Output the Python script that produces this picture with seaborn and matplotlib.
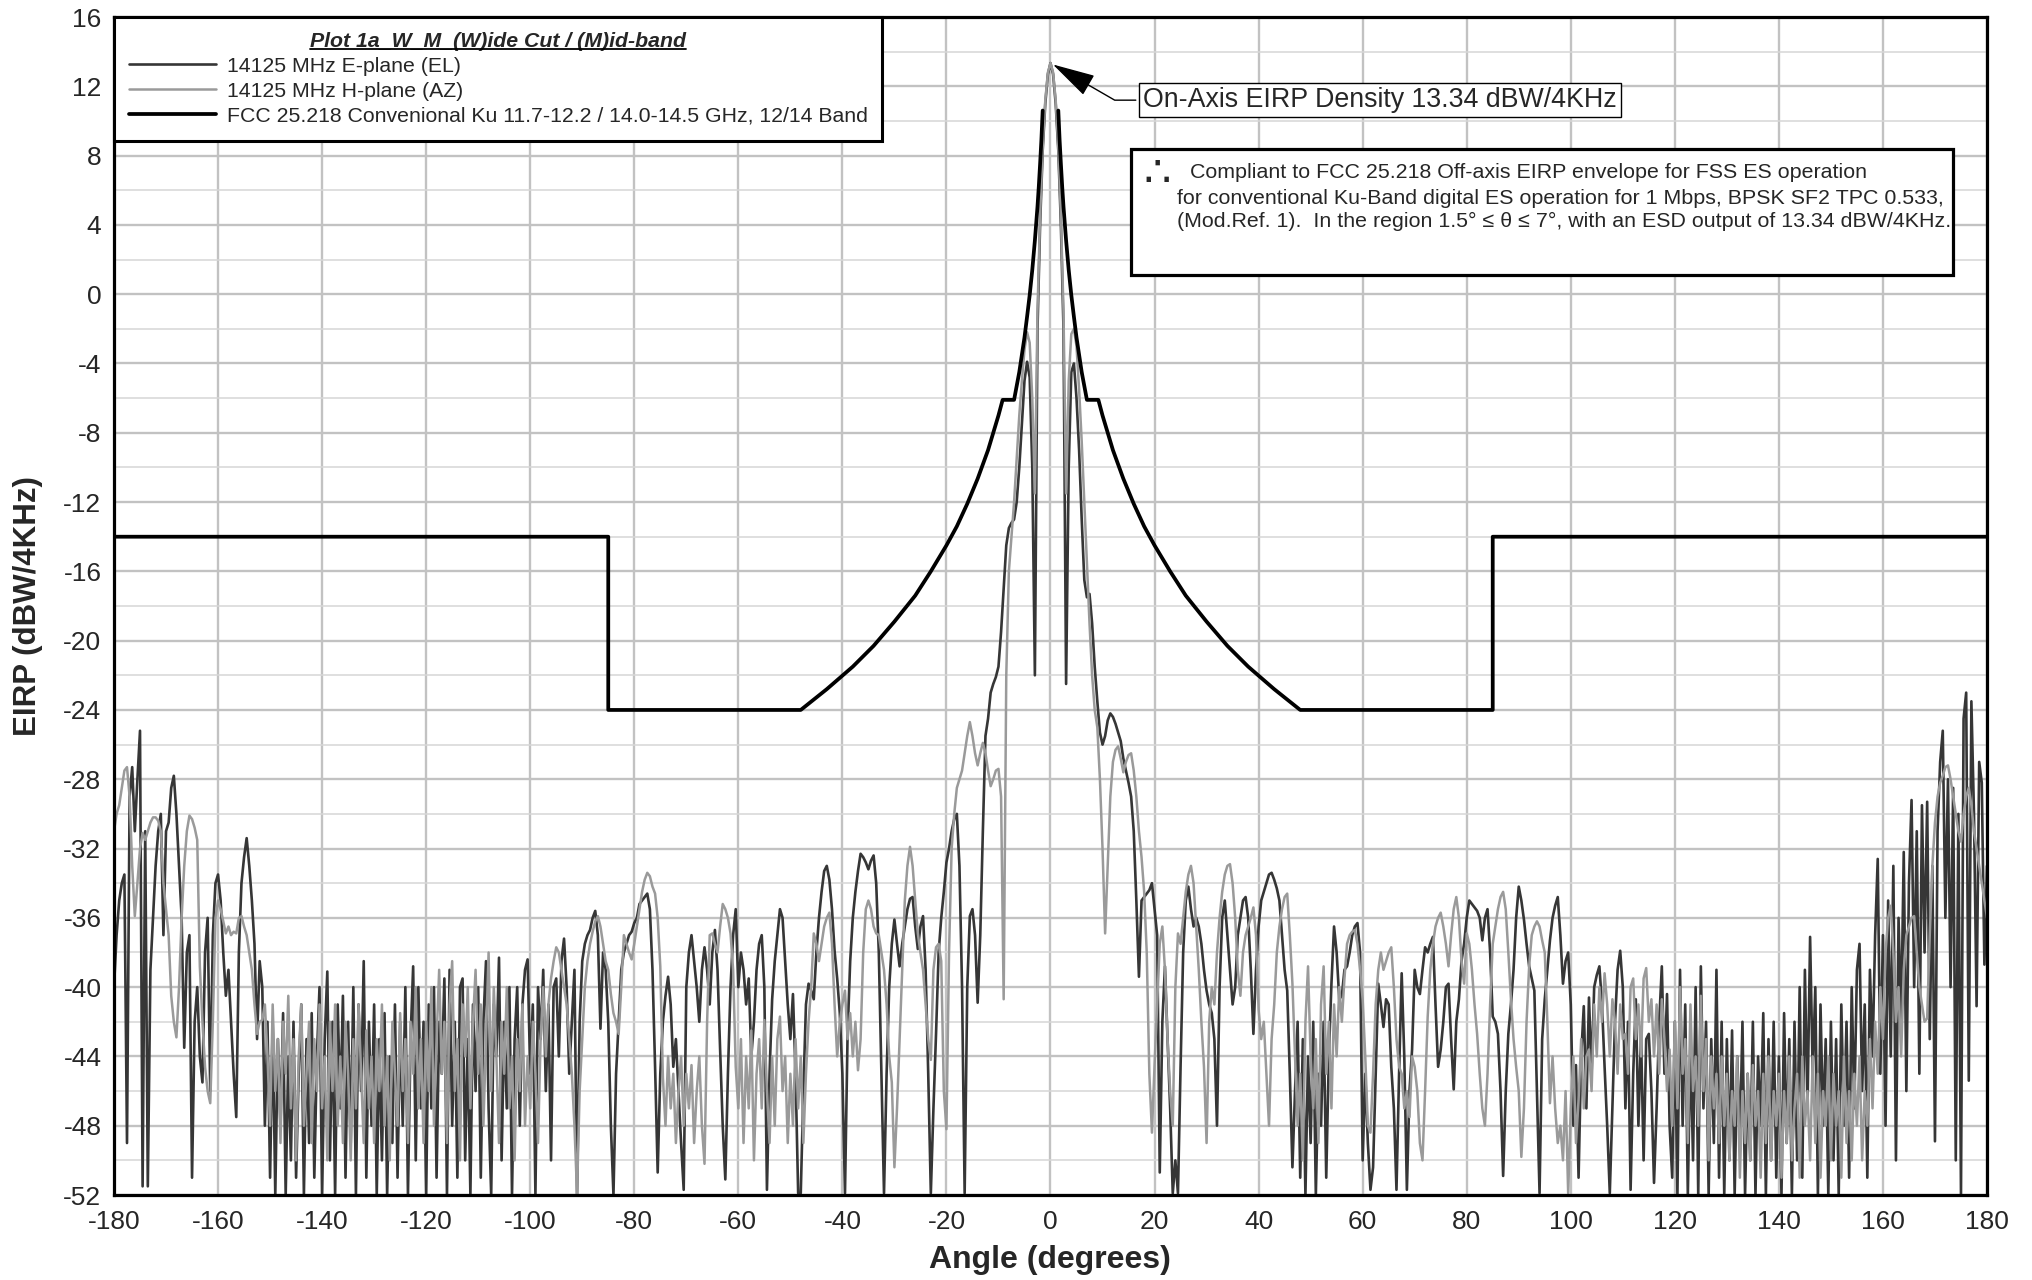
import numpy as np
import pandas as pd
import seaborn as sns
import matplotlib
matplotlib.use("Agg")
import matplotlib.pyplot as plt
from matplotlib.ticker import MultipleLocator
from matplotlib.patches import Rectangle
from matplotlib.lines import Line2D
from matplotlib.transforms import IdentityTransform

# measurement angles, 0.5 deg steps
ANGLES = np.arange(-180, 180.25, 0.5)

# 14125 MHz E-plane (EL), dBW/4kHz
E_PLANE = [
    -40, -37, -35, -34, -33.5, -49, -29, -27.3, -31, -28, -25.2, -51.5, -31, -51.5, -39, -36, -33, -31, -30, -37,
    -31, -30.5, -28.5, -27.8, -30, -33, -36, -43.5, -38, -37, -51, -42, -40, -44, -45.5, -38, -36, -46, -37, -34,
    -33.5, -35, -38, -40.5, -39, -42, -45, -47.5, -38, -34, -32.5, -31.4, -33, -35, -37.5, -43, -38.5, -40, -48, -42,
    -51, -42, -52, -43, -48, -41.5, -52, -44, -50, -42, -51, -45, -41, -52, -43, -49, -41.5, -51, -44, -40,
    -52, -43, -39.1, -50, -42, -52, -41, -47, -40.5, -51, -42, -49, -40, -52, -41, -46, -38.5, -51, -42, -48,
    -41, -52, -43, -50, -41.5, -52, -44, -49, -41, -51, -42, -48, -40, -52, -43, -38.8, -50, -40, -47, -42,
    -52, -41, -47, -40, -51, -42, -45, -39.5, -52, -39, -48, -42, -51, -40, -39.5, -50, -43, -52, -41, -46,
    -40, -51, -42, -38.5, -47, -52, -41, -44, -38.3, -50, -42, -47, -40, -52, -43, -40, -48, -41, -39, -38.4,
    -45, -41, -52, -40, -43, -39, -46, -41, -50, -40, -39.5, -44, -38.5, -37.2, -40, -45, -42, -39, -52, -42,
    -38.5, -37.5, -37, -36.7, -36, -35.6, -37, -42.4, -38, -39, -42, -48, -52, -45, -42, -39, -38, -37.5, -37, -36.8,
    -36.3, -36, -35.2, -35, -34.8, -34.6, -35.5, -39, -44.6, -50.7, -45, -42, -40.5, -39.4, -41, -44.6, -43, -46, -49, -51.7,
    -40, -38, -37, -38.5, -40, -42, -39, -37.7, -39, -41, -38, -36.7, -39, -43.6, -48, -51.1, -45, -40, -37, -35.5,
    -40, -38, -39, -41, -39.5, -44, -42, -39, -37.5, -37, -40, -51.7, -45, -40.7, -38.5, -37, -35.5, -36, -38.5, -41,
    -43, -40.4, -45, -51.9, -51.9, -46, -41, -39.8, -40.2, -40.7, -38, -36, -34.5, -33.3, -33, -33.8, -35.5, -37.9, -39.5, -41.5,
    -45, -51.9, -42.7, -38.5, -36, -34.5, -33.3, -32.3, -32.5, -32.8, -33.2, -32.7, -32.4, -34, -38, -45, -51.9, -45, -40, -37.5,
    -36.1, -37.5, -38.8, -37.5, -36.5, -35.5, -34.9, -34.8, -36.5, -37.8, -36.5, -35.9, -39, -45, -51.9, -47, -42.7, -38, -36, -34.5,
    -32.8, -32, -31, -30.3, -30, -33, -40, -51.9, -40, -35.9, -35.5, -37, -40.9, -37, -31, -25.5, -24.5, -23, -22.5, -22.1,
    -21.5, -19.5, -17, -14.5, -13.5, -13.2, -13, -12, -10, -7.5, -5, -3.9, -4.8, -10, -22, -2, 4, 8.3, 11, 12.7,
    13.34,
    12.7, 11, 8.3, 4, -2, -22.5, -10, -4.5, -4, -6, -9, -13, -16.5, -17.5, -17.3, -19, -21.5, -23.5, -25.3,
    -26, -25.5, -24.6, -24.2, -24.4, -24.8, -25.3, -25.8, -26.8, -27.5, -28.2, -29, -31, -35, -39.4, -35, -34.8, -34.6, -34.4, -34,
    -35.5, -37, -50.7, -42, -38.8, -43, -47, -51.9, -50, -51.9, -44.6, -38, -35, -34.2, -35.5, -36.5, -36, -36.5, -37.5, -39,
    -40.2, -41, -41.5, -43, -48, -40, -36, -35, -37, -39, -41, -40, -37, -36, -35, -34.8, -36, -39, -42.7, -39,
    -36.5, -35, -34.5, -34, -33.5, -33.4, -33.8, -34.3, -35, -37, -39, -40.2, -45, -50.4, -46, -42, -51, -43, -52, -44,
    -49, -42, -52, -45, -48, -42, -51, -44, -39.8, -36.5, -38, -40.7, -40.5, -39, -38.8, -38, -37, -36.5, -36.3, -38,
    -50, -45, -49, -51.7, -50.4, -45, -39.8, -41, -42.3, -40.7, -41, -44.6, -47, -51.7, -45, -39.2, -44, -51.7, -46, -43.6,
    -39, -40, -40.4, -39, -37.7, -38, -37.5, -37.1, -41, -44.6, -43.6, -42, -40, -39.8, -43, -45.9, -42, -40.7, -38.5, -37.5,
    -36, -35, -35.2, -35.4, -35.6, -36, -37.3, -36, -35.5, -38, -41.7, -42, -42.7, -46, -50.9, -46, -42.7, -41, -39, -36,
    -34.2, -35, -36.1, -37.5, -38.8, -39.5, -40.2, -46, -51.9, -43, -40.7, -39, -37.3, -36, -35.3, -34.8, -37, -39.8, -38.5, -38,
    -41, -48, -44.5, -51, -44, -41.1, -47, -40.6, -45, -40, -39.3, -38.8, -41, -44.6, -48, -51.9, -47, -42, -39, -37.9,
    -40, -47, -42, -51.7, -45, -40.7, -48, -42.7, -50, -43, -42.7, -46, -51.3, -47, -42, -38.8, -45, -40.4, -48, -51,
    -42, -52, -39, -48, -41, -52, -43, -50, -40, -52, -38.8, -47, -42, -52, -43, -49, -39, -51, -42, -52,
    -43, -50, -42.5, -52, -44, -49, -42, -52, -45, -50, -42, -52, -44, -48, -41.5, -52, -43, -50, -42, -51,
    -44, -52, -41.5, -49, -43, -52, -42, -50, -40, -51, -39, -47, -37.1, -45, -40, -52, -41, -48, -43, -52,
    -42, -50, -43, -52, -41, -48, -42, -51, -40, -47, -39, -37.5, -46, -41, -51, -39, -44, -37, -32.6, -45,
    -37, -48, -35, -44, -33, -50, -36, -42, -32.2, -46, -34, -29.2, -40, -31, -45, -29.5, -38, -29.3, -43, -33,
    -48.9, -31, -27, -25.2, -36, -28, -40, -28.5, -50, -30, -52, -24.5, -23, -45.4, -23.5, -30, -41.1, -27, -28.2, -38.7,
    -33,
]

# 14125 MHz H-plane (AZ)
H_PLANE = [
    -31, -30, -29.5, -28.5, -27.5, -27.3, -29, -33, -35.9, -34, -32, -31.1, -31.5, -31, -30.5, -30.2, -30.2, -30.4, -31, -34,
    -35.5, -37, -40.5, -42, -42.9, -40, -36, -33, -31, -30.1, -30.3, -30.8, -31.5, -38.8, -42, -44.6, -46, -46.7, -42, -36,
    -35, -35.5, -36.2, -36.9, -36.5, -37, -36.8, -36.9, -36, -35.9, -36.5, -37, -38, -39, -41, -42.7, -42, -41.9, -41, -44,
    -48, -41, -46, -43, -49, -42, -45, -40.5, -47, -43, -50, -44, -41, -48, -45, -42, -49, -43, -46, -41,
    -47, -44, -50, -42, -46, -41, -48, -44, -49, -42, -45, -50, -43, -47, -41, -45, -49, -42.5, -47, -44,
    -49, -43, -46, -41, -48, -44, -50, -42, -45, -48, -41.5, -46, -43, -49, -42, -45, -40, -47, -43, -49,
    -42, -46, -40, -48, -43, -39, -45, -42, -49, -41, -38.5, -46, -43, -50, -41, -44, -40, -47, -42, -39,
    -45, -41, -48, -43, -38, -46, -40, -44, -49, -42, -45, -40, -47, -44, -50, -43, -46, -41, -48, -44,
    -47, -42, -45, -49, -43, -40, -44, -41, -39.5, -38.5, -37.7, -38, -39, -40, -41, -43, -45, -48, -51.9, -46,
    -43, -40, -38.5, -37.5, -36.8, -36.2, -35.9, -36.5, -37.5, -38.5, -39, -40.4, -41.5, -42, -42.7, -40, -37, -37.5, -38, -38.4,
    -37.5, -36.5, -35.5, -34.5, -33.8, -33.4, -33.6, -34.2, -34.6, -36, -38.8, -45.2, -48, -44, -47, -45, -49, -46, -44, -48,
    -45, -47, -44.5, -49, -46, -44, -48, -50.2, -42, -37, -36.9, -37.5, -38, -36.5, -35.2, -35.5, -36, -36.9, -39, -44.6,
    -47, -43, -49, -44, -47, -42.5, -50, -45, -43, -47, -41.9, -46, -49, -44, -48, -43, -41.7, -46, -44, -49,
    -45, -48, -43, -47, -44, -49, -45, -42, -40, -36.9, -37.5, -38.5, -37.5, -36.5, -36, -35.7, -37.5, -41, -44, -42,
    -41, -40.2, -43, -41.5, -44, -42, -44.8, -43, -38, -35.5, -35, -35.5, -36.5, -36.9, -37, -38, -39, -41, -44, -45.5,
    -50.4, -47, -43, -39, -35, -33, -31.9, -33, -35, -36.9, -38, -39, -41, -43, -44.2, -39, -37.7, -37.5, -38.5, -46,
    -48.2, -38, -32, -30, -28.5, -28, -27.5, -26.5, -25.5, -24.7, -25.5, -26.5, -27.2, -26.5, -25.9, -26.5, -27.5, -28.4, -28, -27.5,
    -27.4, -29, -40.7, -22, -16, -14, -12, -9.5, -7, -5, -3.2, -2.2, -2.8, -6, -11.5, -1, 4.5, 8.5, 11.2, 12.8,
    13.34,
    12.8, 11.2, 8.5, 4.5, -1, -11.5, -5, -2.3, -2.0, -3, -5.5, -8.5, -12, -15.5, -19, -22, -24, -25, -28,
    -32, -36.9, -33, -29, -27, -26.3, -26.1, -26.8, -27.6, -27, -26.6, -26.5, -27.5, -29, -31, -32.5, -34.5, -38, -45, -48.4,
    -44.5, -41, -37.5, -36.5, -39, -43, -46, -48, -40, -36.9, -37.5, -36, -34.5, -33.5, -33, -34, -36.5, -39, -42, -44.6,
    -49, -42, -40, -41, -38, -36, -34.5, -33.5, -33, -32.9, -34, -36, -39, -40.5, -38, -37, -36.5, -36, -35.4, -37,
    -41.3, -43, -42, -45, -48, -43, -41, -38, -36.5, -35.5, -34.8, -34.6, -37, -39.8, -44, -48, -45, -50, -42, -38.8,
    -44, -47, -43, -49, -41, -38.8, -45, -42, -47, -41, -44, -40, -42, -39.5, -37.5, -37, -36.8, -36.7, -37.5, -39,
    -40.7, -44, -48, -48.4, -45, -41, -39, -38, -39, -38.5, -38, -37.7, -40, -43, -44.6, -45, -47, -46, -47.5, -44,
    -44.6, -46, -49, -50, -46, -41.7, -39, -37.5, -36.5, -36, -35.7, -36.5, -37.5, -38.8, -37, -35.5, -34.8, -36, -38.5, -39.8,
    -36.9, -37.5, -39, -41, -42.7, -45, -47, -48, -45, -41, -37.5, -36.5, -35.5, -34.8, -34.5, -35.5, -38, -40.7, -43, -44.6,
    -46, -49.8, -47, -42, -38.8, -37, -36.5, -36.2, -36.5, -37.3, -38, -42, -46.7, -44, -47, -49, -48, -50, -46, -51.9,
    -47, -44, -49, -46.5, -43, -47, -44, -43.6, -46, -41, -44, -40, -42, -39.2, -41, -44, -40.7, -42, -45, -41,
    -43, -42.7, -45, -40, -39.5, -43, -41, -44, -39.5, -38.9, -42, -40.7, -44, -41, -45, -40.7, -43, -46, -43.6, -48,
    -42, -47, -40, -45, -43, -49, -41, -46, -44, -48, -40.5, -46, -43, -50, -44, -47, -45, -49, -44, -48,
    -45, -50, -46, -48, -44, -51, -46, -49, -45, -50, -44.5, -48, -46, -51, -45, -49, -44, -50, -46, -48,
    -45, -51, -46, -49, -44, -50, -47, -45, -51, -44, -48, -46, -50, -44, -49, -45, -51, -46, -48, -44,
    -50, -45, -48, -46, -51, -44, -49, -46, -50, -45, -48, -44, -50, -46, -48, -43, -47, -42, -45, -40,
    -43, -38, -36, -35.3, -38, -42, -40, -44, -39, -37, -36.5, -36, -35.9, -38, -40, -41, -42, -41.8, -37, -33,
    -30.5, -29, -28.2, -27.8, -27.3, -27.2, -28, -29, -30, -31, -31.6, -30, -29, -28.5, -29.5, -31, -32, -33, -34, -35,
    -36,
]

# FCC 25.218 off-axis envelope, positive side (mirrored for negative angles)
FCC_ANGLES = [1.5, 1.75, 2, 2.25, 2.5, 3, 3.5, 4, 4.5, 5, 5.5, 6, 6.5, 7, 9.2, 10, 11, 12, 14, 16,
              18, 20, 23, 26, 30, 34, 38, 43, 48, 85, 85, 180]
FCC_EIRP = [10.6, 8.9, 7.5, 6.2, 5.05, 3.1, 1.4, -0.05, -1.3, -2.5, -3.5, -4.5, -5.3, -6.1, -6.1, -7.0, -8.0, -9.0, -10.65, -12.1,
            -13.4, -14.5, -16.0, -17.4, -18.9, -20.3, -21.5, -22.8, -24.0, -24.0, -14.0, -14.0]

X_TICKS = list(range(-180, 181, 20))
Y_TICKS = list(range(-52, 17, 4))

assert len(E_PLANE) == len(ANGLES) and len(H_PLANE) == len(ANGLES)

sns.set_theme(style="white")
plt.rcParams["font.family"] = ["Liberation Sans", "DejaVu Sans"]
plt.rcParams["axes.unicode_minus"] = False

df = pd.DataFrame({"angle": ANGLES, "E": E_PLANE, "H": H_PLANE})
fcc_right = pd.DataFrame({"angle": FCC_ANGLES, "eirp": FCC_EIRP})
fcc_left = pd.DataFrame({"angle": [-a for a in FCC_ANGLES], "eirp": FCC_EIRP})

fig = plt.figure(figsize=(20.32, 12.8), dpi=100)
ax = fig.add_axes([0.0561, 0.0664, 0.92175, 0.92031])

sns.lineplot(data=df, x="angle", y="E", ax=ax, color="#363636", lw=1.9,
             estimator=None, sort=False, label="14125 MHz E-plane (EL)", zorder=2)
sns.lineplot(data=df, x="angle", y="H", ax=ax, color="#9a9a9a", lw=1.8,
             estimator=None, sort=False, label="14125 MHz H-plane (AZ)", zorder=2.1)
sns.lineplot(data=fcc_left, x="angle", y="eirp", ax=ax, color="black", lw=2.7,
             estimator=None, sort=False, zorder=3)
sns.lineplot(data=fcc_right, x="angle", y="eirp", ax=ax, color="black", lw=2.7,
             estimator=None, sort=False, zorder=3,
             label="FCC 25.218 Convenional Ku 11.7-12.2 / 14.0-14.5 GHz, 12/14 Band")

ax.set_xlim(-180, 180)
ax.set_ylim(-52, 16)
ax.set_xticks(X_TICKS)
ax.set_yticks(Y_TICKS)
ax.yaxis.set_minor_locator(MultipleLocator(2))
ax.grid(which="major", color="#c2c2c2", lw=1.7)
ax.grid(which="minor", axis="y", color="#d6d6d6", lw=1.1)
ax.set_axisbelow(True)
ax.tick_params(which="both", length=0, labelsize=19)
ax.tick_params(axis="y", pad=9)
ax.tick_params(axis="x", pad=11)
ax.set_xlabel("")
ax.set_ylabel("")
for sp in ax.spines.values():
    sp.set_color("black")
    sp.set_linewidth(2.3)

fig.text(0.5167, 0.0156, "Angle (degrees)", ha="center", va="center",
         fontsize=23, fontweight="bold")
fig.text(0.0138, 0.5265, "EIRP (dBW/4KHz)", ha="center", va="center",
         rotation=90, fontsize=22.5, fontweight="bold")

handles, labels = ax.get_legend_handles_labels()
leg = ax.legend(handles, labels, loc="upper left", bbox_to_anchor=(0, 1),
                borderaxespad=0, fancybox=False, framealpha=1, edgecolor="black",
                fontsize=15.3, title="Plot 1a_W_M_(W)ide Cut / (M)id-band",
                title_fontproperties={"weight": "bold", "style": "italic", "size": 15.3},
                handlelength=4.1, handletextpad=0.5, labelspacing=0.28, borderpad=0.7)
leg.get_frame().set_linewidth(2.2)

# on-axis peak callout
ax.annotate("On-Axis EIRP Density 13.34 dBW/4KHz", xy=(0, 13.34), xytext=(17.8, 11.2),
            ha="left", va="center", fontsize=19.3, zorder=6,
            bbox=dict(boxstyle="square,pad=0.15", fc="white", ec="black", lw=1.0),
            arrowprops=dict(arrowstyle="-|>,head_length=1.7,head_width=0.45", color="black",
                            lw=1.0, mutation_scale=16,
                            connectionstyle="angle,angleA=0,angleB=-30,rad=0"))

# compliance note box
fig.add_artist(Rectangle((0.5566, 0.7852), 0.4045, 0.0984, transform=fig.transFigure,
                         fc="white", ec="black", lw=2.3, zorder=5))
fig.text(0.5694, 0.8640, "\u2234", fontsize=31, ha="center", va="center", zorder=6,
         family=["DejaVu Sans"])
fig.text(0.5856, 0.8656, "Compliant to FCC 25.218 Off-axis EIRP envelope for FSS ES operation",
         fontsize=15.4, ha="left", va="center", zorder=6)
fig.text(0.5792, 0.8453,
         "for conventional Ku-Band digital ES operation for 1 Mbps, BPSK SF2 TPC 0.533,",
         fontsize=15.4, ha="left", va="center", zorder=6)
fig.text(0.5792, 0.8266,
         "(Mod.Ref. 1).  In the region 1.5\u00b0 \u2264 \u03b8 \u2264 7\u00b0, with an ESD output of 13.34 dBW/4KHz.",
         fontsize=15.4, ha="left", va="center", zorder=6)

# underline the legend title
fig.canvas.draw()
bb = leg.get_title().get_window_extent()
fig.add_artist(Line2D([bb.x0, bb.x1], [bb.y0 + 2, bb.y0 + 2], transform=IdentityTransform(),
                      color="black", lw=1.3, zorder=7))

fig.savefig("out.png", dpi=100)
